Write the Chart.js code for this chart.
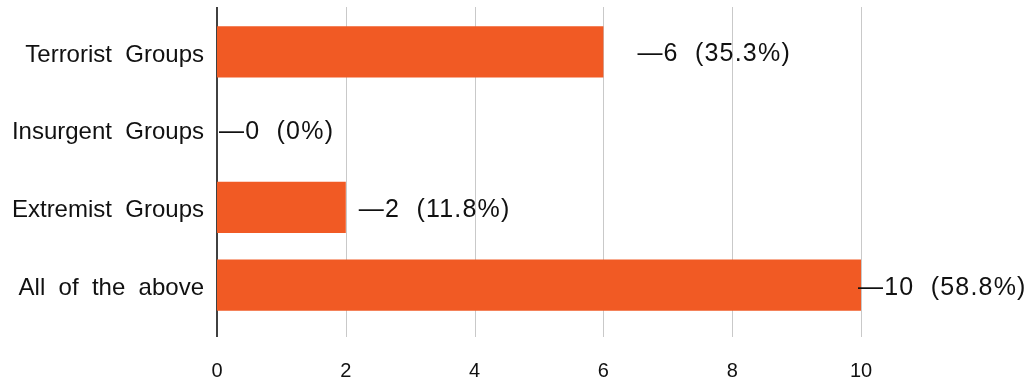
<!DOCTYPE html>
<html>
<head>
<meta charset="utf-8">
<title>Groups</title>
<script src="https://cdn.jsdelivr.net/npm/chart.js"></script>
<style>
    html, body { margin: 0; padding: 0; background: #fff; }
    .-place-for-chart { width: 1035px; height: 385px; position: relative; }
</style>
</head>
<body>
<div class="-place-for-chart">
    <canvas id="myChart"></canvas>
</div>
<script>
// answers and how many picked each
const categories = ['Terrorist  Groups', 'Insurgent  Groups', 'Extremist  Groups', 'All  of  the  above'];
const counts = [6, 0, 2, 10];
const percents = [35.3, 0, 11.8, 58.8];
const xTicks = [0, 2, 4, 6, 8, 10];

const FONT = '"Liberation Sans", Arial, Helvetica, sans-serif';

// vertical grid, drawn a bit past the plot area at top and bottom
const gridLines = {
    id: 'gridLines',
    beforeDatasetsDraw(chart, args, opts) {
        const {ctx, chartArea, scales: {x}} = chart;
        ctx.save();
        x.ticks.forEach(t => {
            const isZero = t.value === 0;
            const px = Math.round(x.getPixelForValue(t.value)) + (isZero ? 0 : 0.5);
            ctx.strokeStyle = isZero ? '#111' : '#c9c9c9';
            ctx.lineWidth = isZero ? 1.6 : 1;
            ctx.beginPath();
            ctx.moveTo(px, chartArea.top - opts.above);
            ctx.lineTo(px, chartArea.bottom + opts.below);
            ctx.stroke();
        });
        ctx.restore();
    }
};

// "—6  (35.3%)" next to each bar
const valueLabels = {
    id: 'valueLabels',
    afterDatasetsDraw(chart, args, opts) {
        const {ctx} = chart;
        const meta = chart.getDatasetMeta(0);
        ctx.save();
        ctx.font = opts.size + 'px ' + FONT;
        ctx.letterSpacing = opts.spacing + 'px';
        ctx.fillStyle = '#111';
        ctx.textAlign = 'left';
        ctx.textBaseline = 'middle';
        meta.data.forEach((bar, i) => {
            const text = '\u2014' + counts[i] + '  (' + percents[i] + '%)';
            ctx.fillText(text, bar.x + opts.shift[i], bar.y + opts.dy);
        });
        ctx.restore();
    }
};

const config = {
    type: 'bar',
    data: {
        labels: categories,
        datasets: [{
            data: counts,
            backgroundColor: '#f15a24',
            borderWidth: 0,
            categoryPercentage: 1,
            barPercentage: 0.656
        }]
    },
    options: {
        indexAxis: 'y',
        responsive: true,
        maintainAspectRatio: false,
        animation: false,
        layout: {
            padding: {top: 13, right: 174, bottom: 3, left: 0}
        },
        scales: {
            x: {
                min: 0,
                max: 10,
                afterBuildTicks: scale => {
                    scale.ticks = xTicks.map(v => ({value: v}));
                },
                afterFit: scale => {
                    scale.height = 58;
                    scale.paddingLeft = 0;
                    scale.paddingRight = 0;
                },
                grid: {display: false, drawTicks: false},
                border: {display: false},
                ticks: {
                    padding: 35,
                    color: '#111',
                    font: {family: FONT, size: 20}
                }
            },
            y: {
                afterFit: scale => {
                    scale.width = 217;
                    scale.paddingTop = 0;
                    scale.paddingBottom = 0;
                },
                grid: {display: false, drawTicks: false},
                border: {display: false},
                ticks: {
                    padding: 13,
                    labelOffset: 3,
                    color: '#111',
                    font: {family: FONT, size: 24}
                }
            }
        },
        plugins: {
            legend: {display: false},
            tooltip: {enabled: false},
            gridLines: {above: 6, below: 13},
            valueLabels: {size: 25, spacing: 1.2, dy: 2.5, shift: [34, 2, 13, -3]}
        }
    },
    plugins: [gridLines, valueLabels]
};

const chart = new Chart(document.getElementById('myChart').getContext('2d'), config);
</script>
</body>
</html>
